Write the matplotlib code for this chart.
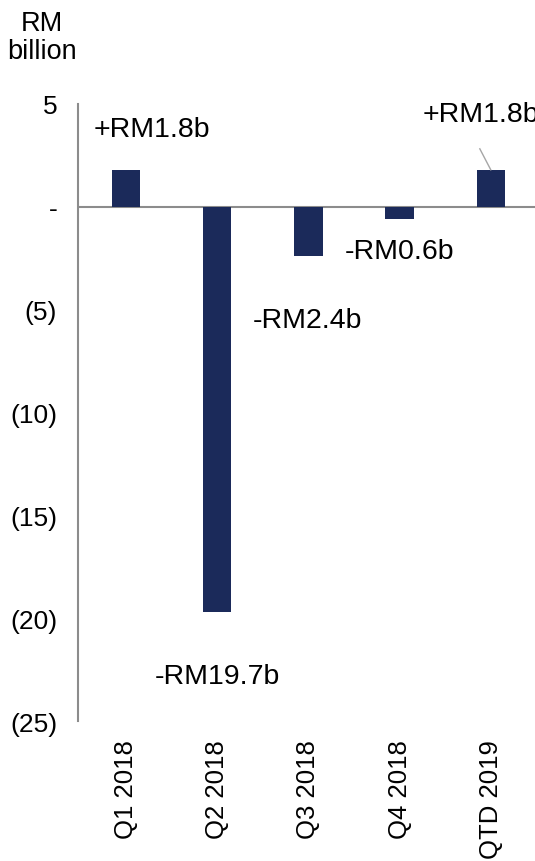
import matplotlib
matplotlib.use('Agg')
import matplotlib.pyplot as plt

plt.rcParams['font.family'] = ['Liberation Sans', 'DejaVu Sans']

# data
quarters = ['Q1 2018', 'Q2 2018', 'Q3 2018', 'Q4 2018', 'QTD 2019']
flows = [1.8, -19.7, -2.4, -0.6, 1.8]
flow_labels = ['+RM1.8b', '-RM19.7b', '-RM2.4b', '-RM0.6b', '+RM1.8b']
yticks = [5, 0, -5, -10, -15, -20, -25]
ytick_labels = ['5', '-', '(5)', '(10)', '(15)', '(20)', '(25)']

# label placement (data coords, left edge / vertical centre)
label_pos = [(-0.36, 3.8), (0.32, -22.8), (1.39, -5.5), (2.40, -2.15), (3.25, 4.5)]

bar_color = '#1b2a5a'
axis_color = '#8c8c8c'

fig = plt.figure(figsize=(5.35, 8.62), dpi=100)
ax = fig.add_axes([0.1458, 0.1624, 0.8542, 0.7158])

x = list(range(len(quarters)))
ax.bar(x, flows, width=0.31, color=bar_color, zorder=2)
ax.axhline(0, color=axis_color, lw=1.5, zorder=1)

ax.set_xlim(-0.526, 4.485)
ax.set_ylim(-25, 5)

for sp in ['top', 'right', 'bottom']:
    ax.spines[sp].set_visible(False)
ax.spines['left'].set_color(axis_color)
ax.spines['left'].set_linewidth(1.5)

ax.set_yticks(yticks)
ax.set_yticklabels(ytick_labels)
ax.tick_params(axis='y', length=0, pad=15, labelsize=19)
ax.set_xticks(x)
ax.set_xticklabels(quarters, rotation=90, fontsize=18.5, va='top', ha='center')
ax.tick_params(axis='x', length=0, pad=13)

for (lx, ly), txt in zip(label_pos, flow_labels):
    ax.text(lx, ly, txt, fontsize=20.5, ha='left', va='center', clip_on=False)

# leader line for the last label
ax.plot([3.88, 4.0], [2.82, 1.8], color='#a6a6a6', lw=1, zorder=3)

fig.text(0.0785, 0.956, 'RM\nbillion', fontsize=19.5, ha='center', va='center',
         linespacing=1.1)

fig.savefig('out.png', dpi=100)
